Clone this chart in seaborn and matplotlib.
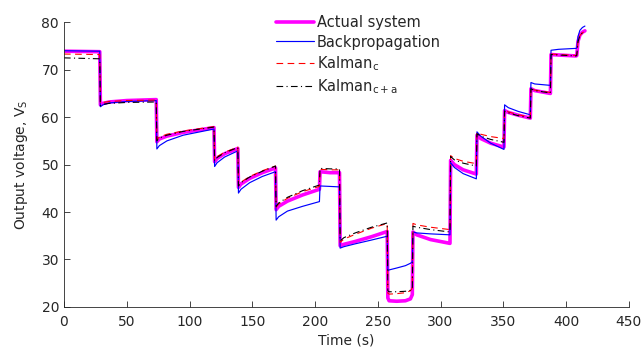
import numpy as np
import pandas as pd
import matplotlib
matplotlib.use('Agg')
import matplotlib.pyplot as plt
import seaborn as sns

# time axis (s), shared by all series
time = [0, 28.5,
        29, 31, 36, 50, 73.5,
        74, 76, 82, 95, 119.5,
        120, 122, 128, 138.5,
        139, 141, 148, 158, 168.5,
        169, 171, 178, 190, 203.5,
        204, 212, 219.5,
        220, 223, 232, 245, 257.5,
        258, 259, 265, 272, 276, 277.5,
        278, 281, 292, 307.5,
        308, 311, 318, 328.5,
        329, 332, 340, 350.5,
        351, 354, 362, 371.5,
        372, 375, 387.5,
        388, 394, 408,
        408.5, 409.5, 411, 413, 415]

actual = [73.9, 73.8,
          62.6, 62.9, 63.2, 63.5, 63.7,
          54.8, 55.4, 56.0, 56.8, 57.8,
          50.6, 51.3, 52.3, 53.4,
          45.2, 45.9, 47.1, 48.3, 49.3,
          40.5, 41.2, 42.3, 43.6, 44.8,
          48.5, 48.3, 48.3,
          32.9, 33.2, 33.8, 34.8, 35.9,
          21.9, 21.3, 21.2, 21.3, 21.7, 22.6,
          35.8, 35.2, 34.2, 33.4,
          50.9, 50.0, 48.9, 48.0,
          56.2, 55.5, 54.5, 53.7,
          61.4, 61.0, 60.4, 59.8,
          66.0, 65.6, 65.0,
          73.2, 73.1, 72.9,
          73.0, 76.0, 77.3, 77.9, 78.2]

backprop = [74.0, 73.9,
            62.2, 62.6, 63.0, 63.3, 63.5,
            53.3, 54.0, 55.0, 56.2, 57.5,
            49.6, 50.4, 51.6, 52.9,
            44.0, 44.8, 46.2, 47.5, 48.5,
            38.3, 39.0, 40.2, 41.2, 42.2,
            45.5, 45.4, 45.3,
            32.4, 32.7, 33.3, 34.1, 34.9,
            27.6, 27.8, 28.2, 28.7, 29.2, 29.5,
            35.8, 35.6, 35.4, 35.2,
            50.4, 49.4, 48.1, 47.0,
            56.9, 56.0, 54.5, 53.2,
            62.6, 62.0, 61.2, 60.5,
            67.3, 67.0, 66.7,
            74.1, 74.3, 74.5,
            74.6, 77.0, 78.3, 78.9, 79.2]

kalman_c = [73.3, 73.2,
            62.8, 63.1, 63.3, 63.5, 63.6,
            55.3, 55.8, 56.4, 57.1, 58.0,
            51.0, 51.7, 52.6, 53.7,
            45.6, 46.3, 47.5, 48.7, 49.7,
            41.0, 41.7, 42.9, 44.3, 45.4,
            49.0, 48.9, 48.9,
            33.6, 34.3, 35.3, 36.6, 37.6,
            22.9, 22.7, 22.8, 23.0, 23.4, 24.0,
            37.6, 37.3, 36.8, 36.3,
            51.9, 51.3, 50.7, 50.2,
            56.8, 56.4, 55.9, 55.5,
            61.5, 61.1, 60.5, 60.0,
            66.1, 65.7, 65.2,
            73.3, 73.2, 73.0,
            73.1, 76.0, 77.2, 77.8, 78.1]

kalman_ca = [72.5, 72.3,
             62.4, 62.7, 62.9, 63.1, 63.2,
             55.0, 55.6, 56.2, 57.0, 57.9,
             50.8, 51.5, 52.5, 53.6,
             45.5, 46.2, 47.4, 48.6, 49.7,
             41.2, 41.9, 43.1, 44.5, 45.7,
             49.2, 49.1, 49.1,
             33.9, 34.6, 35.6, 36.8, 37.7,
             23.4, 23.2, 23.2, 23.3, 23.5, 23.8,
             37.0, 36.8, 36.3, 35.8,
             51.7, 51.0, 50.3, 49.7,
             56.5, 56.0, 55.3, 54.7,
             61.3, 60.9, 60.3, 59.8,
             66.0, 65.6, 65.1,
             73.2, 73.1, 72.9,
             73.0, 75.9, 77.2, 77.8, 78.1]

labels = ['Actual system', 'Backpropagation', 'Kalman$_c$', 'Kalman$_{c+a}$']

sns.set_style('ticks', {'xtick.direction': 'in', 'ytick.direction': 'in'})
plt.rcParams['font.family'] = ['DejaVu Sans']
plt.rcParams['mathtext.default'] = 'regular'
plt.rcParams['font.size'] = 10

gray = '#262626'
fig = plt.figure(figsize=(6.43, 3.48), dpi=100)
ax = fig.add_axes([0.0995, 0.118, 0.8785, 0.818])

sns.lineplot(x=time, y=actual, color='#ff00ff', linewidth=2.6, label=labels[0],
             sort=False, estimator=None, ax=ax)
sns.lineplot(x=time, y=backprop, color='#0000ff', linewidth=0.85, label=labels[1],
             sort=False, estimator=None, ax=ax)
sns.lineplot(x=time, y=kalman_c, color='#ff0000', linewidth=0.8, linestyle=(0, (6, 4)),
             label=labels[2], sort=False, estimator=None, ax=ax)
sns.lineplot(x=time, y=kalman_ca, color='black', linewidth=0.8, linestyle=(0, (6, 3, 1, 3)),
             label=labels[3], sort=False, estimator=None, ax=ax)

ax.set_xlim(0, 450)
ax.set_ylim(20, 80)
ax.set_xticks(np.arange(0, 451, 50))
ax.set_yticks(np.arange(20, 81, 10))
ax.set_xlabel('Time (s)', color=gray, fontsize=10, labelpad=3)
ax.set_ylabel('Output voltage, V$_S$', color=gray, fontsize=10, labelpad=8)
ax.tick_params(colors=gray, labelsize=10, length=4, width=0.6, direction='in')
ax.tick_params(axis='x', pad=6)
for s in ['top', 'right']:
    ax.spines[s].set_visible(False)
for s in ['left', 'bottom']:
    ax.spines[s].set_color(gray)
    ax.spines[s].set_linewidth(0.6)

handles = ax.get_lines()[:4]
ax.legend(handles, labels, loc='upper left', bbox_to_anchor=(266 / 643, 1 - 5 / 348),
          bbox_transform=fig.transFigure, frameon=False, fontsize=10.5,
          handlelength=2.6, handletextpad=0.2, labelspacing=0.3, borderpad=0.2)

fig.savefig('out.png', dpi=100)
